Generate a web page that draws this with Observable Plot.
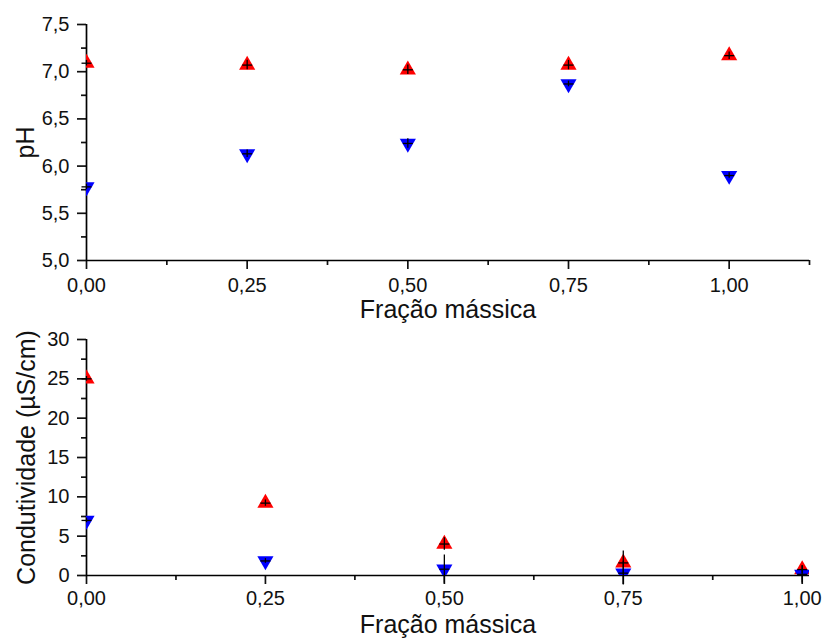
<!DOCTYPE html>
<html><head><meta charset="utf-8">
<script src="https://cdn.jsdelivr.net/npm/d3@7"></script>
<script src="https://cdn.jsdelivr.net/npm/@observablehq/plot@0.6"></script>
<style>
html,body{margin:0;padding:0;background:#fff;}
#c svg{display:block;}
</style></head><body><div id="c"></div>
<script>
// ---- data ----
const fractions = [0, 0.25, 0.5, 0.75, 1.0];
const phRed = [7.09, 7.07, 7.02, 7.07, 7.17];
const phRedErr = [0.03, 0.05, 0.05, 0.05, 0.04];
const phBlue = [5.78, 6.13, 6.24, 6.87, 5.90];
const phBlueErr = [0.03, 0.04, 0.05, 0.03, 0.03];
const condRed = [25.0, 9.2, 4.0, 1.6, 0.75];
const condRedErr = [0.3, 0.4, 0.8, 1.5, 0.5];
const condBlue = [7.0, 1.85, 0.8, 0.3, 0.15];
const condBlueErr = [0.3, 0.3, 1.8, 1.5, 1.1];
const xMajor = [0, 0.25, 0.5, 0.75, 1.0];
const xMinorTop = [0.125, 0.375, 0.625, 0.875, 1.125];
const xMinorBottom = [0.125, 0.375, 0.625, 0.875];
const phTicks = [5.0, 5.5, 6.0, 6.5, 7.0, 7.5];
const phMinor = [5.25, 5.75, 6.25, 6.75, 7.25];
const condTicks = [0, 5, 10, 15, 20, 25, 30];
const condMinor = [2.5, 7.5, 12.5, 17.5, 22.5, 27.5];
const xLabel = "Fração mássica";
const phLabel = "pH";
const condLabel = "Condutividade (µS/cm)";
const redColor = "#ff0000";
const blueColor = "#0000ff";

const FONT = "'Liberation Sans', Arial, Helvetica, sans-serif";
const comma = f => v => d3.format(f)(v).replace(".", ",");

const sqrt3 = Math.sqrt(3);
const triUp = {draw(ctx, size) {
  const y = -Math.sqrt(size / (sqrt3 * 3));
  ctx.moveTo(0, y * 2); ctx.lineTo(-sqrt3 * y, -y); ctx.lineTo(sqrt3 * y, -y); ctx.closePath();
}};
const triDown = {draw(ctx, size) {
  const y = -Math.sqrt(size / (sqrt3 * 3));
  ctx.moveTo(0, -y * 2); ctx.lineTo(-sqrt3 * y, y); ctx.lineTo(sqrt3 * y, y); ctx.closePath();
}};
const hline = {draw(ctx) { ctx.moveTo(-5, 0); ctx.lineTo(5, 0); }};

function rows(vals, errs) {
  return fractions.map((x, i) => ({x, y: vals[i], e: errs[i]}));
}

function chart({height, marginTop, marginBottom, xDomain, xMinor, yDomain, yTicks, yMinor, yFmt, yLabel, red, blue, xTitleDy, yTitleDx, xPad}) {
  const axisW = 1.7;
  return Plot.plot({
    width: 823, height, marginLeft: 86, marginRight: 14, marginTop, marginBottom,
    style: {fontFamily: FONT, fontSize: "20px", color: "#111", background: "#fff", overflow: "visible"},
    x: {domain: xDomain},
    y: {domain: yDomain},
    marks: [
      Plot.axisX(xMajor, {tickSize: 9, tickPadding: xPad, tickFormat: comma(".2f"), label: null, strokeWidth: axisW}),
      Plot.axisX(xMinor, {tickSize: 5, tickFormat: () => "", label: null, strokeWidth: axisW}),
      Plot.axisY(yTicks, {tickSize: 9, tickPadding: 8, tickFormat: yFmt, label: null, strokeWidth: axisW}),
      Plot.axisY(yMinor, {tickSize: 5, tickFormat: () => "", label: null, strokeWidth: axisW}),
      Plot.ruleY([yDomain[0]], {stroke: "#000", strokeWidth: axisW}),
      Plot.ruleX([0], {stroke: "#000", strokeWidth: axisW}),
      Plot.dot(red, {x: "x", y: "y", symbol: triUp, r: 6, fill: redColor, stroke: null, clip: true}),
      Plot.dot(blue, {x: "x", y: "y", symbol: triDown, r: 6, fill: blueColor, stroke: null, clip: true}),
      Plot.ruleX(red, {x: "x", y1: d => d.y - d.e, y2: d => d.y + d.e, stroke: "#000", strokeWidth: 1.3}),
      Plot.ruleX(blue, {x: "x", y1: d => d.y - d.e, y2: d => d.y + d.e, stroke: "#000", strokeWidth: 1.3}),
      Plot.dot(red, {x: "x", y: "y", symbol: hline, stroke: "#000", strokeWidth: 1.3, fill: null}),
      Plot.dot(blue, {x: "x", y: "y", symbol: hline, stroke: "#000", strokeWidth: 1.3, fill: null}),
      Plot.text([xLabel], {text: d => d, frameAnchor: "bottom", lineAnchor: "top", dy: xTitleDy, fontSize: 25, fill: "#111"}),
      Plot.text([yLabel], {text: d => d, frameAnchor: "left", rotate: -90, dx: yTitleDx, textAnchor: "middle", lineAnchor: "middle", fontSize: 25, fill: "#111"})
    ]
  });
}

const phChart = chart({
  height: 320, marginTop: 24, marginBottom: 60,
  xDomain: [0, 1.125], xMinor: xMinorTop,
  yDomain: [5, 7.5], yTicks: phTicks, yMinor: phMinor, yFmt: comma(".1f"), yLabel: phLabel,
  red: rows(phRed, phRedErr), blue: rows(phBlue, phBlueErr),
  xTitleDy: 40, yTitleDx: -61, xPad: 8
});
const condChart = chart({
  height: 319, marginTop: 19, marginBottom: 64,
  xDomain: [0, 1.0102], xMinor: xMinorBottom,
  yDomain: [0, 30], yTicks: condTicks, yMinor: condMinor, yFmt: d3.format("d"), yLabel: condLabel,
  red: rows(condRed, condRedErr), blue: rows(condBlue, condBlueErr),
  xTitleDy: 40, yTitleDx: -60, xPad: 6
});
document.getElementById("c").append(phChart, condChart);
</script>
</body></html>
